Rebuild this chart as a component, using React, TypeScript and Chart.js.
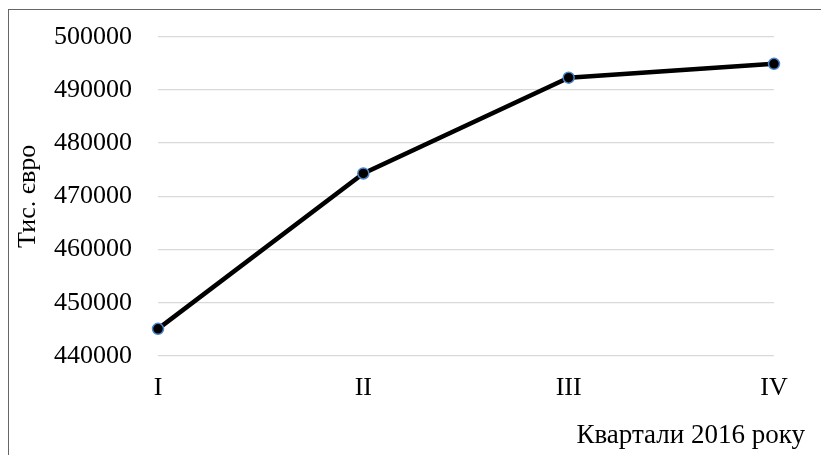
import React, { useEffect, useRef } from "react";
import { Chart, registerables } from "chart.js";

Chart.register(...registerables);

const categories = ["I", "II", "III", "IV"];
const values = [445100, 474300, 492300, 494900];
const yMin = 440000;
const yMax = 500000;
const yStep = 10000;
const yTitle = "Тис. євро";
const xTitle = "Квартали 2016 року";

const FONT = "'Liberation Serif', 'Times New Roman', serif";

export default function App() {
  const ref = useRef<HTMLCanvasElement | null>(null);

  useEffect(() => {
    if (!ref.current) return;
    const xTitlePlugin = {
      id: "xTitlePlugin",
      afterDraw(chart: any) {
        const ctx = chart.ctx;
        ctx.save();
        ctx.font = `27px ${FONT}`;
        ctx.fillStyle = "#000";
        ctx.textAlign = "right";
        ctx.textBaseline = "alphabetic";
        ctx.fillText(xTitle, 805, chart.chartArea.bottom + 87);
        ctx.restore();
      },
    };
    const chart = new Chart(ref.current, {
      type: "line",
      data: {
        labels: categories,
        datasets: [
          {
            data: values,
            borderColor: "#000",
            borderWidth: 4.5,
            pointBackgroundColor: "#000",
            pointBorderColor: "#4a86c8",
            pointBorderWidth: 1.5,
            pointRadius: 5.5,
            tension: 0,
          },
        ],
      },
      options: {
        animation: false,
        responsive: false,
        maintainAspectRatio: false,
        layout: { padding: { left: 8, top: 36.7, right: 47, bottom: 0 } },
        plugins: { legend: { display: false }, tooltip: { enabled: false } },
        scales: {
          x: {
            offset: false,
            grid: { display: false, drawTicks: false },
            border: { display: false },
            ticks: { color: "#000", font: { family: FONT, size: 26 }, padding: 17 },
            afterFit: (s: any) => {
              s.height = 99;
              s.paddingLeft = 0;
              s.paddingRight = 0;
            },
          },
          y: {
            min: yMin,
            max: yMax,
            grid: { color: "#d9d9d9", lineWidth: 1.3, drawTicks: false },
            border: { display: false },
            ticks: {
              stepSize: yStep,
              color: "#000",
              font: { family: FONT, size: 26 },
              padding: 26,
              callback: (v: any) => String(v),
            },
            title: {
              display: true,
              text: yTitle,
              color: "#000",
              font: { family: FONT, size: 26 },
              padding: { top: 5, bottom: 0 },
            },
            afterFit: (s: any) => {
              s.width = 150;
              s.paddingTop = 0;
              s.paddingBottom = 0;
            },
          },
        },
      },
      plugins: [xTitlePlugin],
    });
    return () => chart.destroy();
  }, []);

  return (
    <div style={{ position: "fixed", left: 0, top: 0, width: 821, height: 455, overflow: "hidden", background: "#fff" }}>
      <div
        style={{
          position: "absolute",
          left: 8,
          top: 9,
          width: 900,
          height: 600,
          border: "1px solid #666",
          boxSizing: "border-box",
        }}
      />
      <canvas ref={ref} width={821} height={455} style={{ position: "absolute", left: 0, top: 0, width: 821, height: 455 }} />
    </div>
  );
}
